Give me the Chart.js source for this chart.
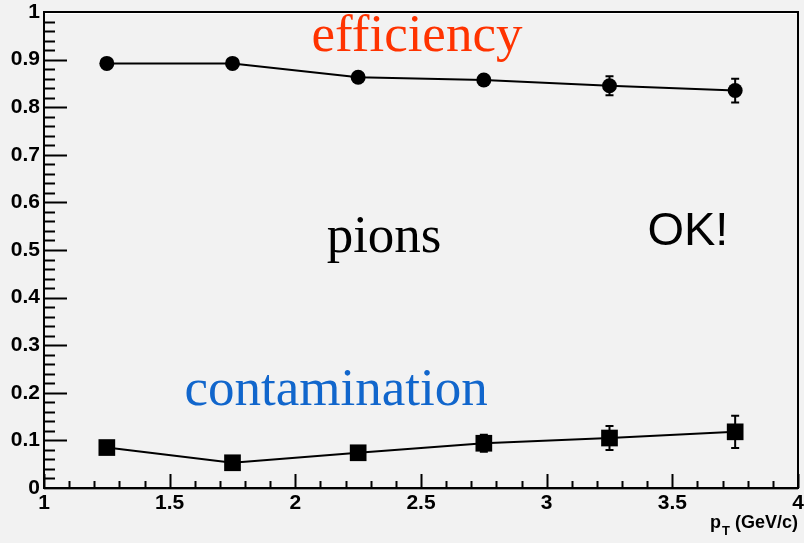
<!DOCTYPE html>
<html>
<head>
<meta charset="utf-8">
<script src="https://cdn.jsdelivr.net/npm/chart.js@4.4.1/dist/chart.umd.min.js"></script>
<style>
  html, body { margin: 0; padding: 0; background: #f2f2f2; }
  canvas { display: block; }
</style>
</head>
<body>
<canvas id="chart" width="804" height="543"></canvas>
<script>
// pT bin centres (GeV/c)
const ptBins = [1.25, 1.75, 2.25, 2.75, 3.25, 3.75];
const efficiency = [0.892, 0.892, 0.863, 0.857, 0.845, 0.835];
const efficiencyErr = [0.005, 0.005, 0.006, 0.007, 0.02, 0.025];
const contamination = [0.085, 0.053, 0.074, 0.094, 0.105, 0.118];
const contaminationErr = [0.005, 0.005, 0.006, 0.018, 0.025, 0.034];

// on-plot labels, in data coordinates
const notes = [
  { text: "efficiency", x: 2.484, y: 0.918, color: "#ff3300", font: "53px 'Liberation Serif'" },
  { text: "pions", x: 2.353, y: 0.496, color: "#000000", font: "53px 'Liberation Serif'" },
  { text: "OK!", x: 3.562, y: 0.510, color: "#000000", font: "47px 'Liberation Sans'" },
  { text: "contamination", x: 2.162, y: 0.174, color: "#1166cc", font: "53px 'Liberation Serif'" }
];

const TICK_FONT = { family: "'Liberation Sans', Arial", weight: "bold", size: 21 };

const errorBars = {
  id: "errorBars",
  beforeDatasetsDraw(chart) {
    const { ctx, scales: { x, y } } = chart;
    const sets = [[efficiency, efficiencyErr], [contamination, contaminationErr]];
    ctx.save();
    ctx.strokeStyle = "#000";
    ctx.lineWidth = 2;
    sets.forEach(([vals, errs]) => {
      ptBins.forEach((pt, i) => {
        const px = x.getPixelForValue(pt);
        const top = y.getPixelForValue(vals[i] + errs[i]);
        const bot = y.getPixelForValue(vals[i] - errs[i]);
        ctx.beginPath();
        ctx.moveTo(px, top); ctx.lineTo(px, bot);
        ctx.moveTo(px - 4, top); ctx.lineTo(px + 4, top);
        ctx.moveTo(px - 4, bot); ctx.lineTo(px + 4, bot);
        ctx.stroke();
      });
    });
    ctx.restore();
  }
};

const frameAndTicks = {
  id: "frameAndTicks",
  afterDraw(chart) {
    const { ctx, chartArea: a, scales: { x, y } } = chart;
    ctx.save();
    ctx.strokeStyle = "#000";
    ctx.lineWidth = 2;

    // y ticks: major every 0.1, minor every 0.02
    ctx.beginPath();
    for (let k = 0; k <= 50; k++) {
      const py = Math.round(y.getPixelForValue(k * 0.02)) + 0.5;
      const len = k % 5 === 0 ? 23 : 11;
      ctx.moveTo(a.left, py); ctx.lineTo(a.left + len, py);
    }
    // x ticks: major every 0.5, minor every 0.1
    for (let k = 0; k <= 30; k++) {
      const px = Math.round(x.getPixelForValue(1 + k * 0.1)) + 0.5;
      const len = k % 5 === 0 ? 14 : 7;
      ctx.moveTo(px, a.bottom); ctx.lineTo(px, a.bottom - len);
    }
    ctx.stroke();

    // frame
    ctx.fillStyle = "#ffffff";
    ctx.fillRect(a.left, a.top + 1, a.right - a.left - 2, 1);
    ctx.fillStyle = "#999999";
    ctx.fillRect(a.left, a.bottom + 1, a.right - a.left, 1);
    ctx.beginPath();
    ctx.moveTo(a.left, a.top); ctx.lineTo(a.right, a.top);
    ctx.lineTo(a.right, a.bottom); ctx.lineTo(a.left, a.bottom);
    ctx.closePath();
    ctx.stroke();

    // axis title p_T (GeV/c)
    ctx.fillStyle = "#000";
    ctx.textBaseline = "alphabetic";
    ctx.textAlign = "right";
    ctx.font = "bold 18px 'Liberation Sans'";
    let right = a.right;
    ctx.fillText("(GeV/c)", right, 528);
    right -= ctx.measureText("(GeV/c)").width + 5;
    ctx.font = "bold 13px 'Liberation Sans'";
    ctx.fillText("T", right, 535);
    right -= ctx.measureText("T").width + 1;
    ctx.font = "bold 18px 'Liberation Sans'";
    ctx.fillText("p", right, 528);

    // annotations
    ctx.textAlign = "center";
    notes.forEach(n => {
      ctx.font = n.font;
      ctx.fillStyle = n.color;
      ctx.fillText(n.text, x.getPixelForValue(n.x), y.getPixelForValue(n.y));
    });
    ctx.restore();
  }
};

new Chart(document.getElementById("chart"), {
  type: "line",
  data: {
    datasets: [
      {
        label: "efficiency",
        data: ptBins.map((pt, i) => ({ x: pt, y: efficiency[i] })),
        borderColor: "#000", borderWidth: 2,
        pointStyle: "circle", pointRadius: 7.5,
        pointBackgroundColor: "#000", pointBorderWidth: 0
      },
      {
        label: "contamination",
        data: ptBins.map((pt, i) => ({ x: pt, y: contamination[i] })),
        borderColor: "#000", borderWidth: 2,
        pointStyle: "rect", pointRadius: 11.8,
        pointBackgroundColor: "#000", pointBorderWidth: 0
      }
    ]
  },
  options: {
    responsive: false,
    animation: false,
    layout: { autoPadding: false, padding: { top: 12, right: 6, left: 0, bottom: 0 } },
    plugins: { legend: { display: false }, tooltip: { enabled: false } },
    scales: {
      x: {
        type: "linear", min: 1, max: 4,
        afterFit: s => { s.height = 55; s.paddingLeft = 0; s.paddingRight = 0; },
        grid: { display: false, drawTicks: false },
        border: { display: false },
        ticks: {
          stepSize: 0.5, autoSkip: false, maxRotation: 0, padding: 3,
          color: "#000", font: TICK_FONT,
          callback: v => String(+v.toFixed(1))
        }
      },
      y: {
        min: 0, max: 1,
        afterFit: s => { s.width = 44; s.paddingTop = 0; s.paddingBottom = 0; },
        grid: { display: false, drawTicks: false },
        border: { display: false },
        ticks: {
          stepSize: 0.1, autoSkip: false, padding: 4,
          color: "#000", font: TICK_FONT,
          callback: v => String(+v.toFixed(1))
        }
      }
    }
  },
  plugins: [errorBars, frameAndTicks]
});
</script>
</body>
</html>
